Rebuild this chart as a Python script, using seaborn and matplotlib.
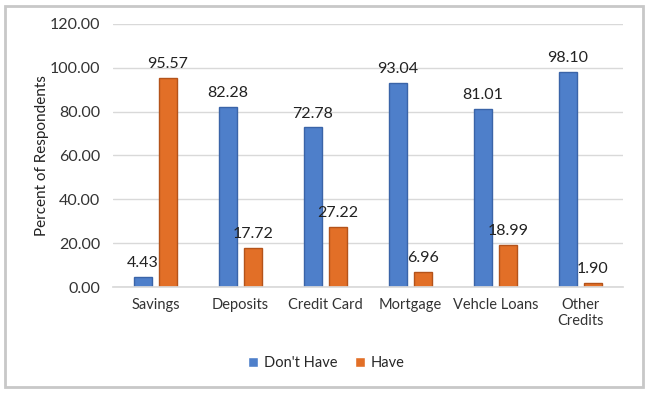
import matplotlib
matplotlib.use("Agg")
import matplotlib.pyplot as plt
import seaborn as sns
import pandas as pd
from matplotlib.patches import Rectangle

categories = ["Savings", "Deposits", "Credit Card", "Mortgage", "Vehcle Loans", "Other\nCredits"]
dont_have = [4.43, 82.28, 72.78, 93.04, 81.01, 98.10]
have = [95.57, 17.72, 27.22, 6.96, 18.99, 1.90]
series_names = ["Don't Have", "Have"]
y_ticks = [0, 20, 40, 60, 80, 100, 120]

df = pd.DataFrame({
    "Category": categories * 2,
    "Value": dont_have + have,
    "Series": [series_names[0]] * len(categories) + [series_names[1]] * len(categories),
})

sns.set_theme(style="white")
plt.rcParams["font.family"] = ["Lato", "DejaVu Sans"]

fig = plt.figure(figsize=(6.51, 3.93), dpi=100)
ax = fig.add_axes([0.1736, 0.2697, 0.7834, 0.6693])

palette = {"Don't Have": "#4E7FCA", "Have": "#E26F27"}
sns.barplot(data=df, x="Category", y="Value", hue="Series", order=categories,
            hue_order=series_names, palette=palette, width=0.59, gap=0.28,
            saturation=1, ax=ax, legend=True, linewidth=1)

edge = {"Don't Have": "#3A64A8", "Have": "#B4531A"}
for cont, name in zip(ax.containers, series_names):
    for bar in cont:
        bar.set_edgecolor(edge[name])
        bar.set_linewidth(1.0)
    ax.bar_label(cont, fmt="%.2f", padding=5, fontsize=11.5, color="#222222")

ax.set_ylim(0, 120)
ax.set_yticks(y_ticks)
ax.set_yticklabels([f"{t:.2f}" for t in y_ticks], fontsize=11.5, color="#333333")
ax.tick_params(axis="x", labelsize=10.5, colors="#333333", length=0, pad=8)
ax.tick_params(axis="y", length=0, pad=9)
ax.set_xlim(-0.5, len(categories) - 0.5)
ax.yaxis.grid(True, color="#D9D9D9", linewidth=1)
ax.set_axisbelow(True)
for s in ["top", "right", "left"]:
    ax.spines[s].set_visible(False)
ax.spines["bottom"].set_color("#D9D9D9")
ax.set_xlabel("")
ax.set_ylabel("Percent of Respondents", fontsize=11, color="#222222", labelpad=1)

handles, labels = ax.get_legend_handles_labels()
ax.legend(handles, labels, loc="center", bbox_to_anchor=(326 / 651, 1 - 363 / 393),
          bbox_transform=fig.transFigure, ncol=2, frameon=False, fontsize=10.5,
          handlelength=0.7, handleheight=0.7, handletextpad=0.4, columnspacing=1.2)

fig.patches.append(Rectangle((5 / 651, 6 / 393), 638 / 651, 381 / 393,
                             transform=fig.transFigure, fill=False,
                             edgecolor="#C8C8C8", linewidth=2))

fig.savefig("out.png", dpi=100, facecolor="white")
